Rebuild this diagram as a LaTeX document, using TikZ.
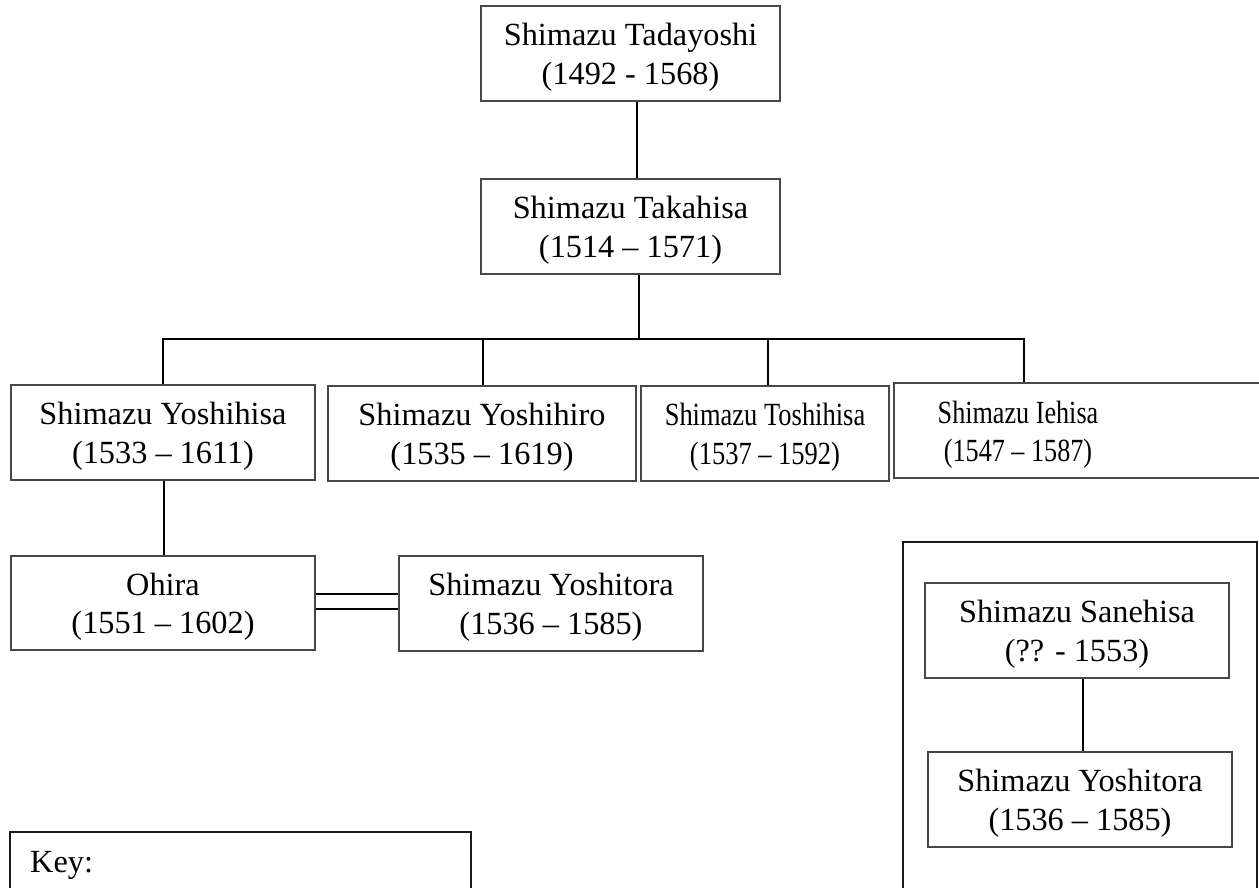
\documentclass[tikz,border=0pt]{standalone}
\usepackage{fontspec}
\setmainfont{Liberation Serif}
\begin{document}
\begin{tikzpicture}[x=1pt,y=-1pt,
  txt/.style={inner sep=0pt, align=center, font=\fontsize{32.3}{38.5}\selectfont},
  box/.style={draw=black!72, line width=1.1pt, inner sep=0pt, minimum height=95pt,
    label={[txt, yshift=-3.5pt]center:{#1}}},
  narrowbox/.style={draw=black!72, line width=1.1pt, inner sep=0pt, minimum height=95pt,
    label={[txt, yshift=-3.5pt, xscale=0.82, transform shape]center:{#1}}},
  conn/.style={draw=black, line width=2pt},
  frame/.style={draw=black!90, line width=2pt}]
\clip (0,0) rectangle (1259,888);
\fill[white] (0,0) rectangle (1259,888);

% top generations
\node[box={Shimazu Tadayoshi\\(1492 - 1568)}, minimum width=299pt] (tada) at (630.5,53.5) {};
\node[box={Shimazu Takahisa\\(1514 – 1571)}, minimum width=299pt] (taka) at (630.5,226.5) {};

% children
\node[box={Shimazu Yoshihisa\\(1533 – 1611)}, minimum width=304pt] (yhisa) at (163,432.5) {};
\node[box={Shimazu Yoshihiro\\(1535 – 1619)}, minimum width=308pt] (yhiro) at (482,433.5) {};
\node[narrowbox={Shimazu Toshihisa\\(1537 – 1592)}, minimum width=248pt] (toshi) at (765,433.5) {};
\node[box={}, minimum width=420pt] (iehisa) at (1104,430.5) {};
\node[txt, xscale=0.81, transform shape] (iehisaT) at (1018,434.5) {Shimazu Iehisa\\(1547 – 1587)};

% next row
\node[box={Ohira\\(1551 – 1602)}, minimum width=304pt, minimum height=94pt] (ohira) at (163,603) {};
\node[box={Shimazu Yoshitora\\(1536 – 1585)}, minimum width=304pt] (ytora) at (551,603.5) {};

% right panel
\node[frame, inner sep=0pt, minimum width=354pt, minimum height=400pt] (panel) at (1080,742) {};
\node[box={Shimazu Sanehisa\\(?? - 1553)}, minimum width=304pt] (sane) at (1077,630.5) {};
\node[box={Shimazu Yoshitora\\(1536 – 1585)}, minimum width=304pt] (ytoraB) at (1080,799.5) {};

% key
\node[frame, inner sep=0pt, minimum width=461pt, minimum height=120pt] (keybox) at (240.5,892) {};
\node[txt, anchor=base west] (keyT) at (30,872) {Key:};

% connectors
\draw[conn] ([xshift=6pt]tada.south) -- ([xshift=6pt]taka.north);
\coordinate (busL) at (163,339);
\coordinate (busR) at (1024,339);
\draw[conn] ([xshift=8.5pt]taka.south) -- ([xshift=8.5pt]taka.south |- busL);
\draw[conn] (busL |- yhisa.north) -- (busL) -- (busR) -- (busR |- iehisa.north);
\draw[conn] ([xshift=1pt]yhiro.north) -- ([xshift=1pt]yhiro.north |- busL);
\draw[conn] ([xshift=3pt]toshi.north) -- ([xshift=3pt]toshi.north |- busL);
\draw[conn] ([xshift=1pt]yhisa.south) -- ([xshift=1pt]ohira.north);
\draw[conn] ([yshift=9pt]ohira.east) -- ([yshift=9pt]ohira.east -| ytora.west);
\draw[conn] ([yshift=-6pt]ohira.east) -- ([yshift=-6pt]ohira.east -| ytora.west);
\draw[conn] ([xshift=6pt]sane.south) -- ([xshift=6pt]sane.south |- ytoraB.north);
\end{tikzpicture}
\end{document}
